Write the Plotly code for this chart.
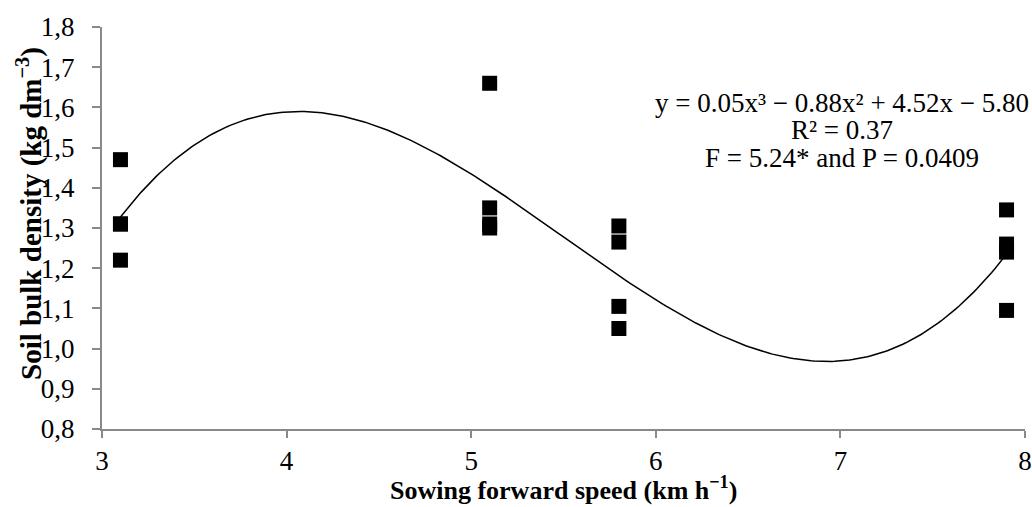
import numpy as np
import plotly.graph_objects as go

# Observations: sowing forward speed (km/h) and soil bulk density (kg/dm3)
speed = [3.1, 3.1, 3.1, 3.1,
         5.1, 5.1, 5.1, 5.1,
         5.8, 5.8, 5.8, 5.8,
         7.9, 7.9, 7.9, 7.9]
density = [1.47, 1.31, 1.31, 1.22,
           1.66, 1.35, 1.31, 1.30,
           1.305, 1.265, 1.105, 1.05,
           1.345, 1.26, 1.24, 1.095]

y_tick_vals = [0.8, 0.9, 1.0, 1.1, 1.2, 1.3, 1.4, 1.5, 1.6, 1.7, 1.8]
y_tick_text = ["0,8", "0,9", "1,0", "1,1", "1,2", "1,3", "1,4", "1,5", "1,6", "1,7", "1,8"]
x_tick_vals = [3, 4, 5, 6, 7, 8]

x_title = "<b>Sowing forward speed (km h<sup>−1</sup>)</b>"
y_title = "<b>Soil bulk density (kg dm<sup>−3</sup>)</b>"
equation_lines = ["y = 0.05x³ − 0.88x² + 4.52x − 5.80", "R² = 0.37", "F = 5.24* and P = 0.0409"]

# Cubic trend line fitted to the observations (as the spreadsheet trendline)
coef = np.polyfit(speed, density, 3)
xs = np.linspace(min(speed), max(speed), 300)
ys = np.polyval(coef, xs)

FONT = "Liberation Serif, Times New Roman, serif"
AXIS_COLOR = "#898989"

fig = go.Figure()
fig.add_trace(go.Scatter(x=xs, y=ys, mode="lines",
                         line=dict(color="black", width=1.5),
                         hoverinfo="skip", showlegend=False))
fig.add_trace(go.Scatter(x=speed, y=density, mode="markers",
                         marker=dict(symbol="square", size=15, color="black",
                                     line=dict(width=0)),
                         showlegend=False))

# equation block (three tightly spaced lines)
eq_y = [0.812, 0.743, 0.674]
for txt, yy in zip(equation_lines, eq_y):
    fig.add_annotation(x=0.8018, xref="paper", y=yy, yref="paper",
                       xanchor="center", yanchor="middle",
                       text=txt, showarrow=False,
                       font=dict(family=FONT, size=27, color="black"))

# axis titles
fig.add_annotation(x=0.5, xref="paper", y=-0.147, yref="paper",
                   xanchor="center", yanchor="middle", text=x_title, showarrow=False,
                   font=dict(family=FONT, size=26, color="black"))
fig.add_annotation(x=-0.078, xref="paper", y=0.535, yref="paper",
                   xanchor="center", yanchor="middle", text=y_title, showarrow=False,
                   textangle=-90,
                   font=dict(family=FONT, size=29, color="black"))

fig.update_layout(
    width=1032, height=507,
    margin=dict(l=102, r=7, t=27, b=78, autoexpand=False),
    paper_bgcolor="white", plot_bgcolor="white",
    font=dict(family=FONT, size=26, color="black"),
)
fig.update_xaxes(range=[3, 8], tickvals=x_tick_vals, automargin=False,
                 showgrid=False, zeroline=False,
                 showline=True, linecolor=AXIS_COLOR, linewidth=2,
                 ticks="outside", ticklen=7, tickcolor=AXIS_COLOR, tickwidth=2,
                 tickfont=dict(family=FONT, size=27, color="black"))
fig.update_yaxes(range=[0.8, 1.8], tickvals=y_tick_vals, ticktext=y_tick_text,
                 automargin=False,
                 showgrid=False, zeroline=False,
                 showline=True, linecolor=AXIS_COLOR, linewidth=2,
                 ticks="outside", ticklen=8, tickcolor=AXIS_COLOR, tickwidth=2,
                 ticklabelstandoff=12,
                 tickfont=dict(family=FONT, size=27, color="black"))

fig.write_html("out.html", config={"displayModeBar": False},
               post_script="document.body.style.margin='0px';")
